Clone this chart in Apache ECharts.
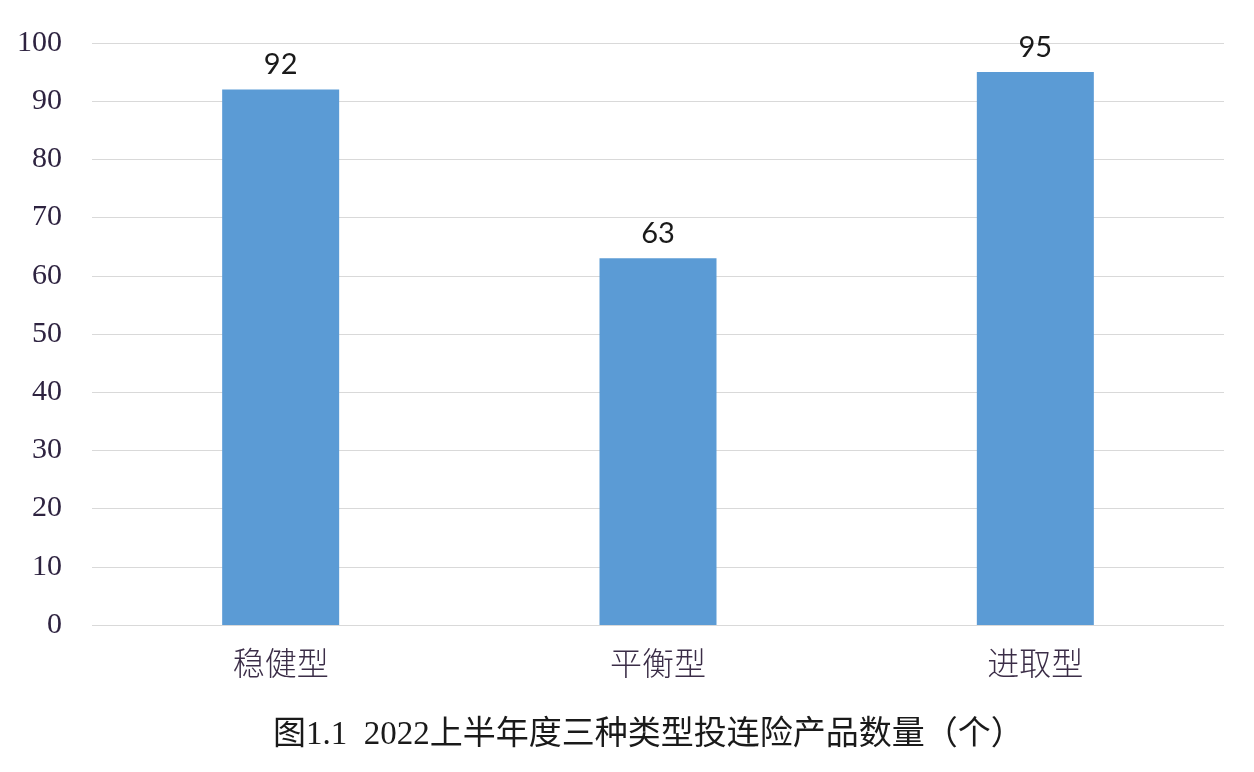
<!DOCTYPE html>
<html>
<head>
<meta charset="utf-8">
<script src="https://cdn.jsdelivr.net/npm/echarts@6/dist/echarts.min.js"></script>
<style>
html,body{margin:0;padding:0;background:#fff;}
#main{width:1254px;height:772px;}
</style>
</head>
<body>
<div id="main"></div>
<script>
const categories = ['稳健型', '平衡型', '进取型'];
const values = [92, 63, 95];
const yTicks = [0, 10, 20, 30, 40, 50, 60, 70, 80, 90, 100];
const titleText = '图1.1  2022上半年度三种类型投连险产品数量（个）';

const chart = echarts.init(document.getElementById('main'));
chart.setOption({
  backgroundColor: '#ffffff',
  animation: false,
  title: {
    text: titleText,
    left: 268,
    top: 714,
    textStyle: {
      fontFamily: '"Liberation Serif", "Noto Sans CJK SC"',
      fontSize: 33,
      fontWeight: 'normal',
      color: '#1a1a1a'
    }
  },
  grid: { left: 92, right: 30, top: 43, bottom: 147, containLabel: false },
  xAxis: {
    type: 'category',
    data: categories,
    axisLine: { show: false },
    axisTick: { show: false },
    axisLabel: {
      margin: 22,
      fontFamily: '"Noto Sans CJK SC"',
      fontSize: 32,
      fontWeight: 300,
      color: '#3b2d47'
    }
  },
  yAxis: {
    type: 'value',
    min: yTicks[0],
    max: yTicks[yTicks.length - 1],
    interval: 10,
    axisLine: { show: false },
    axisTick: { show: false },
    splitLine: { lineStyle: { color: '#d9d9d9', width: 1 } },
    axisLabel: {
      margin: 30,
      fontFamily: '"Liberation Serif"',
      fontSize: 30,
      color: '#2e2340'
    }
  },
  series: [{
    type: 'bar',
    data: values,
    barWidth: 117,
    itemStyle: { color: '#5b9bd5' },
    label: {
      show: true,
      position: 'top',
      distance: 10,
      fontFamily: 'Lato',
      fontSize: 29,
      color: '#1a1a1a'
    }
  }]
});
</script>
</body>
</html>
